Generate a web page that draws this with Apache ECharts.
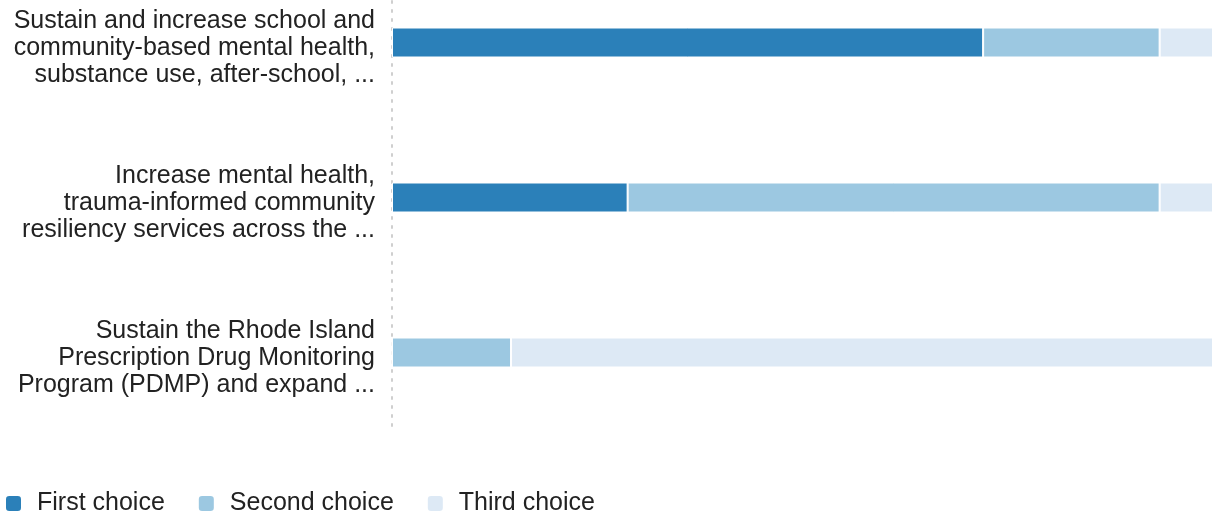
<!DOCTYPE html>
<html>
<head>
<meta charset="utf-8">
<script src="https://cdn.jsdelivr.net/npm/echarts@6/dist/echarts.min.js"></script>
<style>
  html, body { margin: 0; padding: 0; background: #fff; overflow: hidden; }
  /* the plot extends above the visible page top */
  #chart { width: 1213px; height: 550px; margin-top: -35px; }
</style>
</head>
<body>
<div id="chart"></div>
<script>
// Priority statements (shown truncated), top to bottom
const categories = [
  'Sustain and increase school and\ncommunity-based mental health,\nsubstance use, after-school, ...',
  'Increase mental health,\ntrauma-informed community\nresiliency services across the ...',
  'Sustain the Rhode Island\nPrescription Drug Monitoring\nProgram (PDMP) and expand ...'
];
const seriesNames = ['First choice', 'Second choice', 'Third choice'];
// Share of respondents (%) per ranking
const firstChoice  = [72.0, 28.7, 0];
const secondChoice = [21.5, 64.8, 14.5];
const thirdChoice  = [6.5, 6.5, 85.5];
const colors = ['#2b80b9', '#9cc8e1', '#dde9f5'];

const chart = echarts.init(document.getElementById('chart'));
const values = [firstChoice, secondChoice, thirdChoice];
const font = 'Liberation Sans, Arial, sans-serif';

chart.setOption({
  animation: false,
  // grid 0 holds the bars; grid 1 carries the category labels, set slightly lower
  grid: [
    { left: 392, right: 0, top: 0, bottom: 85, containLabel: false },
    { left: 392, right: 0, top: 6, bottom: 79, containLabel: false }
  ],
  xAxis: [
    { gridIndex: 0, type: 'value', min: 0, max: 100, show: false },
    { gridIndex: 1, type: 'value', min: 0, max: 100, show: false }
  ],
  yAxis: [
    {
      gridIndex: 0,
      type: 'category',
      data: categories,
      inverse: true,
      axisLine: { show: true, lineStyle: { color: '#cfcfcf', width: 2, type: [2, 7] } },
      axisTick: { show: false },
      axisLabel: { show: false },
      splitLine: { show: false }
    },
    {
      gridIndex: 1,
      type: 'category',
      data: categories,
      inverse: true,
      axisLine: { show: false },
      axisTick: { show: false },
      splitLine: { show: false },
      axisLabel: {
        margin: 17,
        align: 'right',
        fontFamily: font,
        fontSize: 25,
        lineHeight: 27,
        color: '#222'
      }
    }
  ],
  legend: {
    left: -1, bottom: -6,
    itemWidth: 17, itemHeight: 17,
    itemGap: 32,
    icon: 'roundRect',
    textStyle: { fontFamily: font, fontSize: 25, color: '#222', padding: [0, 0, 0, 10] },
    data: seriesNames
  },
  series: seriesNames.map((name, i) => ({
    name,
    type: 'bar',
    stack: 'total',
    xAxisIndex: 0,
    yAxisIndex: 0,
    barWidth: 30,
    data: values[i],
    itemStyle: { color: colors[i], borderColor: '#fff', borderWidth: 1 }
  }))
});
</script>
</body>
</html>
